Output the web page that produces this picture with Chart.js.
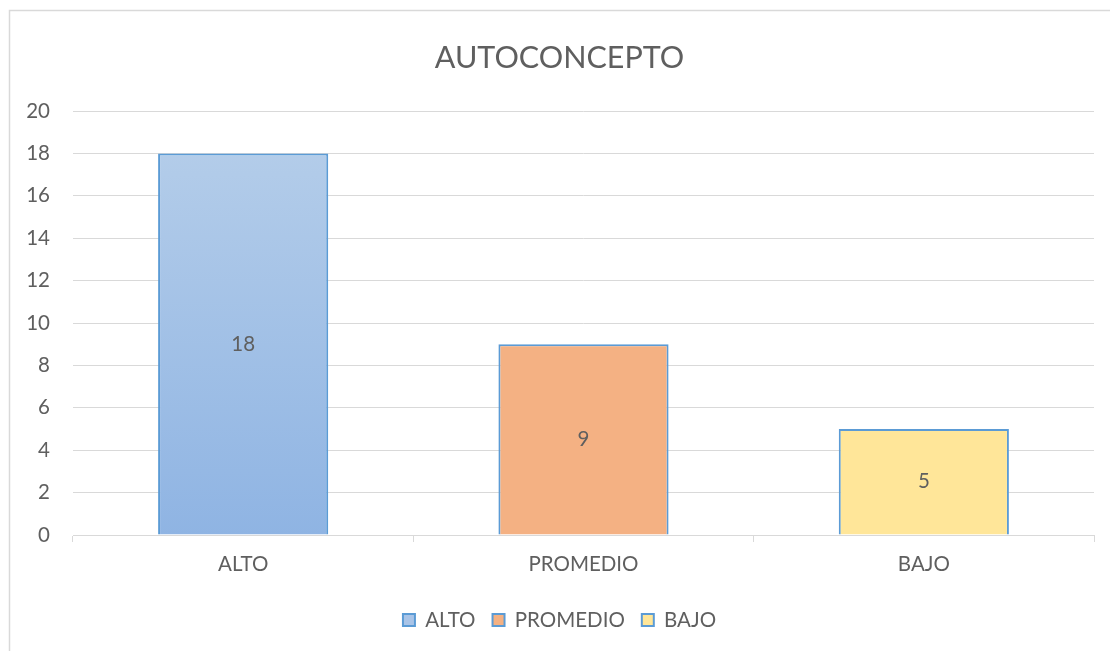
<!DOCTYPE html>
<html>
<head>
<meta charset="utf-8">
<script src="https://cdn.jsdelivr.net/npm/chart.js@4.4.1/dist/chart.umd.min.js"></script>
<style>
  html, body { margin: 0; padding: 0; background: #ffffff; }
  #wrap { position: relative; width: 1110px; height: 651px; }
  canvas { display: block; }
</style>
</head>
<body>
<div id="wrap"><canvas id="c" width="1110" height="651"></canvas></div>
<script>
const chartTitle = 'AUTOCONCEPTO';
const categories = ['ALTO', 'PROMEDIO', 'BAJO'];
const values = [18, 9, 5];
const yTicks = [0, 2, 4, 6, 8, 10, 12, 14, 16, 18, 20];

const FONT = 'Lato, "Open Sans", sans-serif';
const TEXT = '#5f5f5f';
const GRID = '#d9d9d9';
const EDGE = '#5b9bd5';
const flatFill = ['#a9c4e7', '#f4b183', '#ffe699'];
const FS = 20.5;

function barFill(ctx) {
  const chart = ctx.chart;
  const area = chart.chartArea;
  const i = ctx.dataIndex;
  if (!area) return flatFill[i];
  if (i === 0) {
    const g = chart.ctx.createLinearGradient(0, area.top, 0, area.bottom);
    g.addColorStop(0, '#b7cfea');
    g.addColorStop(1, '#8fb4e3');
    return g;
  }
  return flatFill[i];
}

const frame = {
  id: 'frame',
  beforeDraw(chart) {
    const c = chart.ctx;
    c.save();
    c.fillStyle = '#ffffff';
    c.fillRect(0, 0, chart.width, chart.height);
    c.strokeStyle = GRID;
    c.lineWidth = 1.5;
    c.beginPath();
    c.moveTo(9.5, chart.height + 5);
    c.lineTo(9.5, 10.5);
    c.lineTo(chart.width + 5, 10.5);
    c.stroke();
    c.restore();
  }
};

const valueLabels = {
  id: 'valueLabels',
  afterDatasetsDraw(chart) {
    const c = chart.ctx;
    const meta = chart.getDatasetMeta(0);
    c.save();
    c.fillStyle = TEXT;
    c.font = FS + 'px ' + FONT;
    c.textAlign = 'center';
    c.textBaseline = 'middle';
    meta.data.forEach((bar, i) => {
      const mid = (bar.y + bar.base) / 2;
      c.fillText(String(values[i]), bar.x, mid);
    });
    c.restore();
  }
};

new Chart(document.getElementById('c'), {
  type: 'bar',
  data: {
    labels: categories,
    datasets: [{
      data: values,
      backgroundColor: barFill,
      borderColor: EDGE,
      borderWidth: 2,
      categoryPercentage: 0.5,
      barPercentage: 1.0
    }]
  },
  options: {
    responsive: false,
    animation: false,
    devicePixelRatio: 1,
    layout: { padding: { left: 25, right: 16, top: 0, bottom: 10.75 } },
    plugins: {
      title: {
        display: true,
        text: chartTitle,
        color: TEXT,
        font: { family: FONT, size: 30.5, weight: 'normal' },
        padding: { top: 40, bottom: 34.4 }
      },
      legend: {
        position: 'bottom',
        labels: {
          color: TEXT,
          font: { family: FONT, size: FS },
          boxWidth: 12,
          boxHeight: 12,
          padding: 17,
          generateLabels(chart) {
            return categories.map((name, i) => ({
              text: name,
              fillStyle: flatFill[i],
              strokeStyle: EDGE,
              lineWidth: 2,
              fontColor: TEXT,
              hidden: false,
              index: i,
              datasetIndex: 0
            }));
          }
        },
        onClick() {}
      },
      tooltip: { enabled: false }
    },
    scales: {
      x: {
        grid: {
          display: true,
          drawOnChartArea: false,
          drawTicks: true,
          tickLength: 7,
          color: GRID,
          offset: true
        },
        border: { display: true, color: GRID, width: 1 },
        ticks: {
          color: TEXT,
          font: { family: FONT, size: FS },
          padding: 10
        },
        afterFit(scale) { scale.height = 57.75; }
      },
      y: {
        min: 0,
        max: 20,
        afterBuildTicks(scale) { scale.ticks = yTicks.map(v => ({ value: v })); },
        grid: { color: GRID, drawTicks: false, lineWidth: 1 },
        border: { display: false },
        ticks: {
          color: TEXT,
          font: { family: FONT, size: FS },
          padding: 23
        },
        afterFit(scale) { scale.width = 48; }
      }
    }
  },
  plugins: [frame, valueLabels]
});
</script>
</body>
</html>
